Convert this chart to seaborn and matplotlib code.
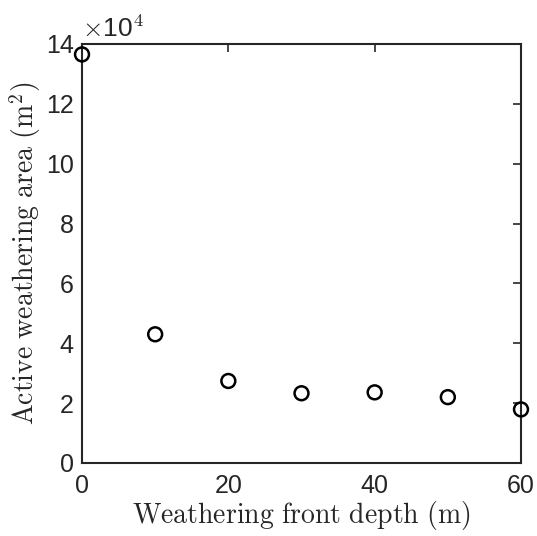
import matplotlib
matplotlib.use("Agg")
import matplotlib.pyplot as plt
import seaborn as sns
import pandas as pd

depth = [0, 10, 20, 30, 40, 50, 60]
area_e4 = [13.65, 4.30, 2.74, 2.33, 2.36, 2.20, 1.79]
xticks = [0, 20, 40, 60]
yticks = [0, 2, 4, 6, 8, 10, 12, 14]

sns.set_style("white")
plt.rcParams['font.family'] = ['Liberation Sans', 'DejaVu Sans']
plt.rcParams['mathtext.fontset'] = 'cm'

df = pd.DataFrame({"depth": depth, "area": area_e4})

fig = plt.figure(figsize=(5.37, 5.36), dpi=100)
ax = fig.add_axes([0.1527, 0.1362, 0.8175, 0.7818])
sns.scatterplot(data=df, x="depth", y="area", ax=ax, marker="o", s=100,
                facecolor="none", edgecolor="black", linewidth=1.8, clip_on=False, zorder=5)

ax.set_xlim(0, 60)
ax.set_ylim(0, 14)
ax.set_xticks(xticks)
ax.set_yticks(yticks)
ax.tick_params(direction="in", length=6, width=1.2, top=True, right=True,
               labelsize=18, colors="#262626", pad=6)
ax.tick_params(axis="x", pad=8)
for s in ax.spines.values():
    s.set_linewidth(1.5)
    s.set_color("#262626")
    s.set_visible(True)

ax.set_xlabel(r"$\mathrm{Weathering\ front\ depth\ (m)}$", fontsize=20, color="#262626", labelpad=1)
ax.set_ylabel(r"$\mathrm{Active\ weathering\ area\ (m^2)}$", fontsize=20, color="#262626", labelpad=2)
ax.text(0.0, 1.005, r"$\times$10$^4$", transform=ax.transAxes, fontsize=19,
        color="#262626", ha="left", va="bottom")

fig.savefig("out.png", dpi=100)
